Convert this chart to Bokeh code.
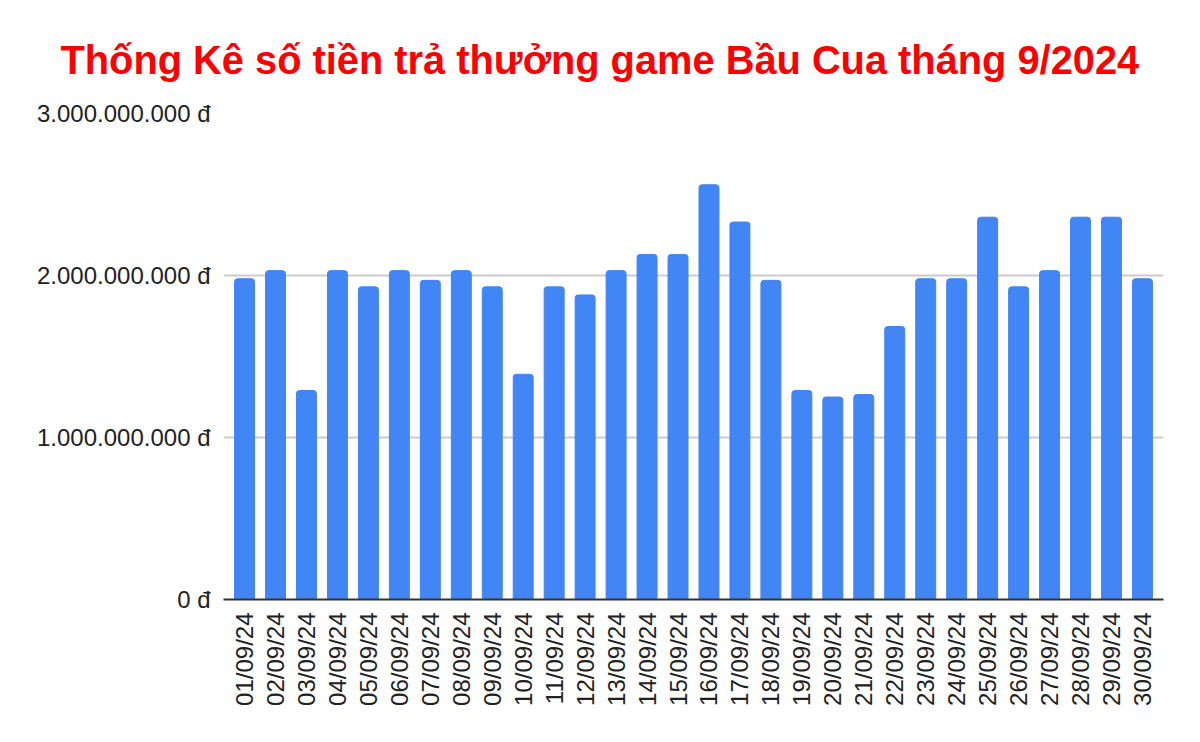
import math
from bokeh.plotting import figure
from bokeh.models import FactorRange, Range1d, FixedTicker, CustomJSTickFormatter, ColumnDataSource
from bokeh.embed import file_html
from bokeh.resources import INLINE

dates = ["01/09/24", "02/09/24", "03/09/24", "04/09/24", "05/09/24", "06/09/24",
         "07/09/24", "08/09/24", "09/09/24", "10/09/24", "11/09/24", "12/09/24",
         "13/09/24", "14/09/24", "15/09/24", "16/09/24", "17/09/24", "18/09/24",
         "19/09/24", "20/09/24", "21/09/24", "22/09/24", "23/09/24", "24/09/24",
         "25/09/24", "26/09/24", "27/09/24", "28/09/24", "29/09/24", "30/09/24"]
amounts = [1980000000, 2030000000, 1290000000, 2030000000, 1930000000, 2030000000,
           1970000000, 2030000000, 1930000000, 1390000000, 1930000000, 1880000000,
           2030000000, 2130000000, 2130000000, 2560000000, 2330000000, 1970000000,
           1290000000, 1250000000, 1265000000, 1685000000, 1980000000, 1980000000,
           2360000000, 1930000000, 2030000000, 2360000000, 2360000000, 1980000000]
y_ticks = [0, 1000000000, 2000000000, 3000000000]
title_text = "Thống Kê số tiền trả thưởng game Bầu Cua tháng 9/2024"

source = ColumnDataSource(data=dict(x=dates, y=amounts))

p = figure(width=1200, height=742, output_backend="svg", toolbar_location=None,
           x_range=FactorRange(factors=dates, range_padding=0.18, range_padding_units="absolute"),
           y_range=Range1d(0, 3000000000),
           min_border_left=223, min_border_right=37, min_border_top=113, min_border_bottom=143)

p.vbar(x="x", top="y", width=0.645, source=source, color="#4285F4", border_radius=(3, 3, 0, 0))

p.title.text = title_text
p.title.align = "left"
p.title.offset = -163
p.title.text_font = "Liberation Sans"
p.title.text_font_size = "39.8px"
p.title.text_font_style = "bold"
p.title.text_color = "#ff0000"
p.title.standoff = 63

p.outline_line_color = None
p.background_fill_color = "white"
p.border_fill_color = "white"

p.xgrid.grid_line_color = None
p.ygrid.grid_line_color = "#cccccc"
p.ygrid.grid_line_width = 2

p.yaxis.ticker = FixedTicker(ticks=y_ticks)
p.yaxis.formatter = CustomJSTickFormatter(code="""
return tick.toFixed(0).replace(/\\B(?=(\\d{3})+(?!\\d))/g, '.') + ' đ';
""")
p.yaxis.axis_line_color = None
p.yaxis.major_tick_line_color = None
p.yaxis.minor_tick_line_color = None
p.yaxis.major_tick_out = 0
p.yaxis.major_label_standoff = 13
p.yaxis.major_label_text_font = "Liberation Sans"
p.yaxis.major_label_text_font_size = "24px"
p.yaxis.major_label_text_color = "#222222"

p.xaxis.axis_line_color = "#333333"
p.xaxis.axis_line_width = 2
p.xaxis.major_tick_line_color = None
p.xaxis.minor_tick_line_color = None
p.xaxis.major_tick_out = 0
p.xaxis.major_label_standoff = 13
p.xaxis.major_label_orientation = math.pi / 2
p.xaxis.major_label_text_font = "Liberation Sans"
p.xaxis.major_label_text_font_size = "24px"
p.xaxis.major_label_text_color = "#222222"

open("out.html", "w").write(file_html(p, INLINE))
